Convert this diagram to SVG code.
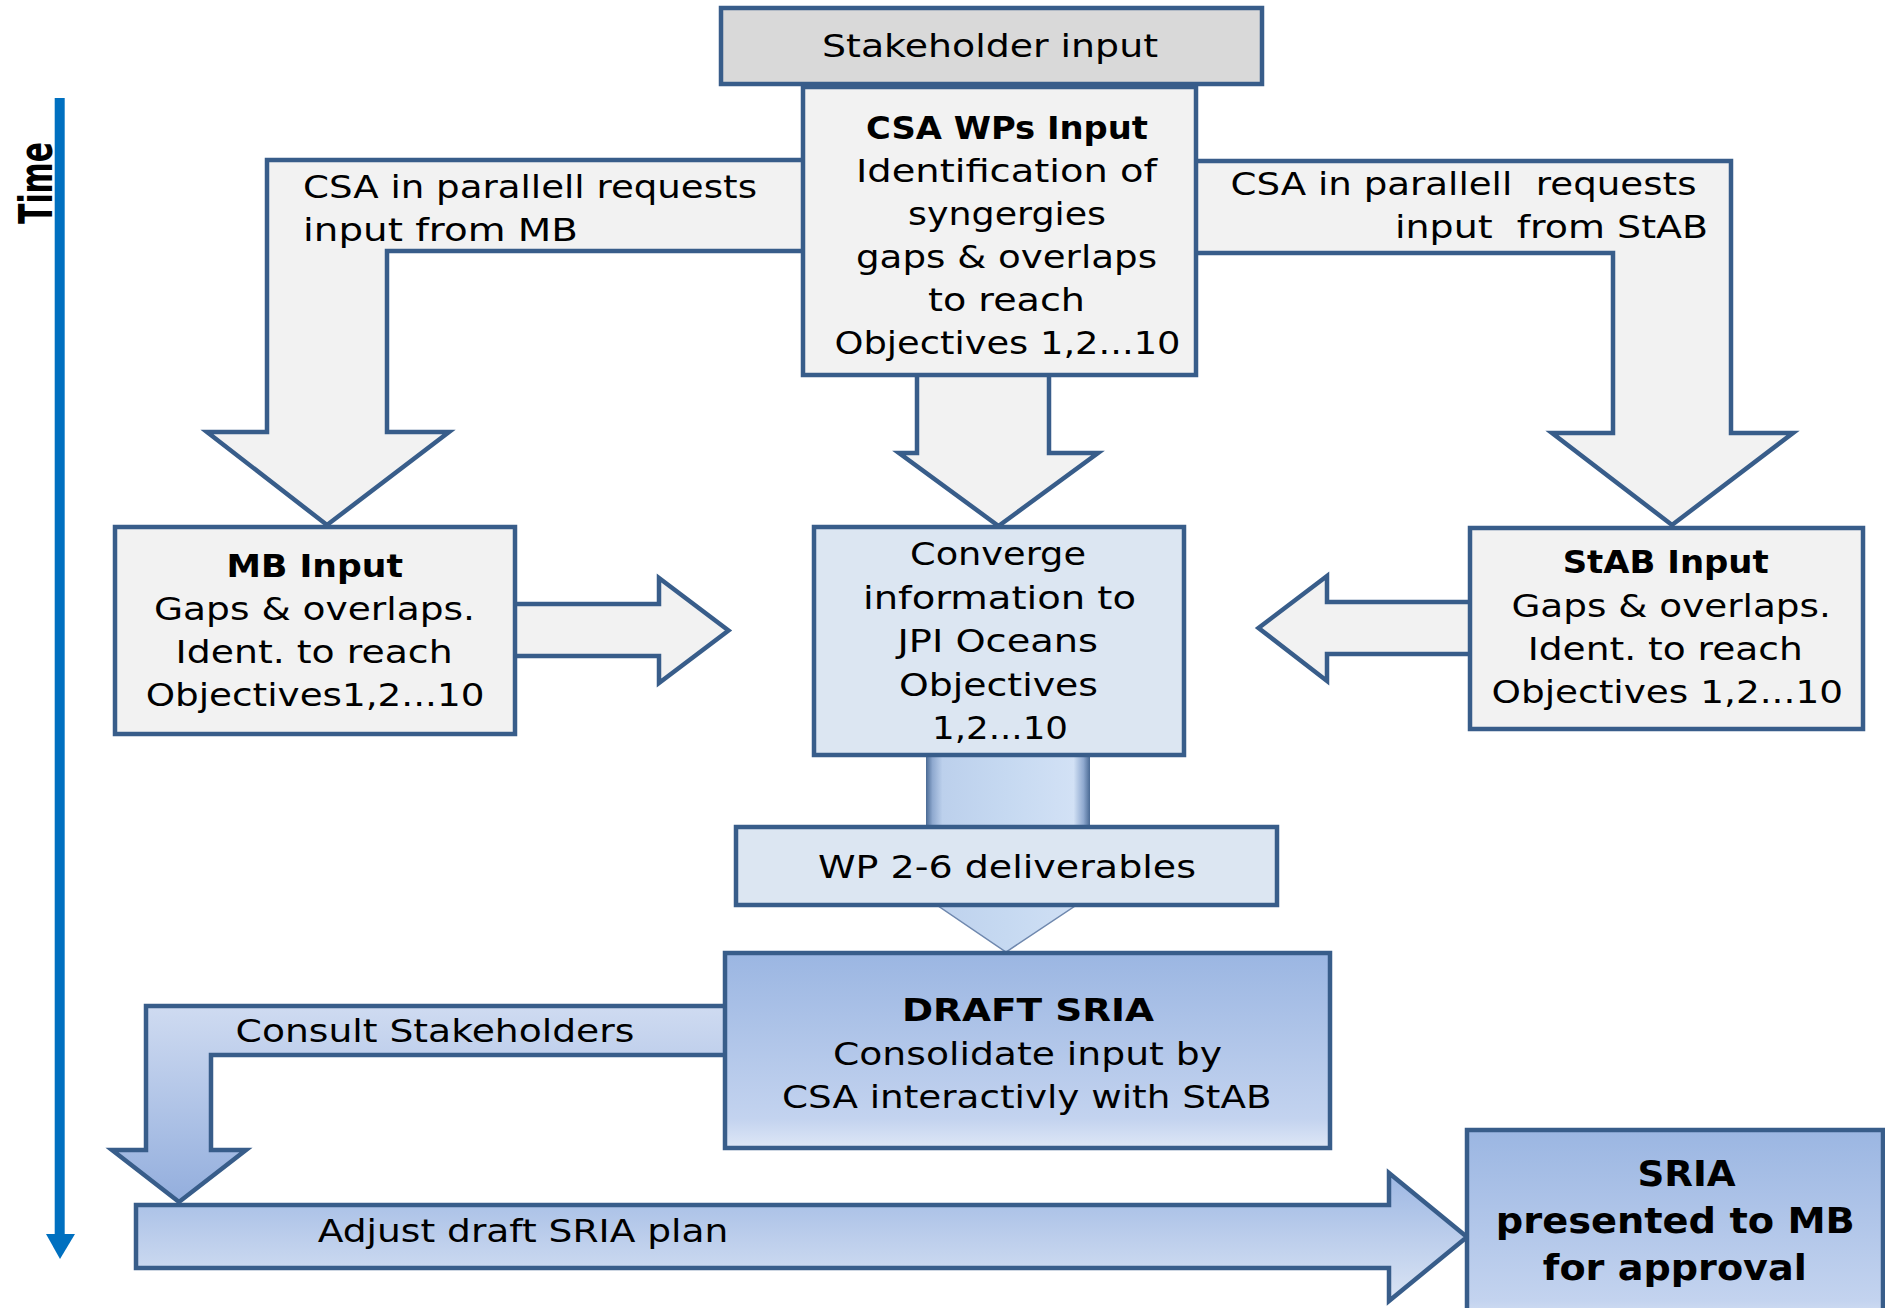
<svg xmlns="http://www.w3.org/2000/svg" width="1885" height="1308" viewBox="0 0 1885 1308">
<defs>
<style>
.ln{stroke:#385D8A;stroke-width:4.5;stroke-linejoin:miter}
.g1{fill:#F2F2F2}
.g2{fill:#D9D9D9}
.lb{fill:#DCE6F2}
.t{font-family:"DejaVu Sans","Liberation Sans",sans-serif;font-size:32px;fill:#000}
.b{font-weight:bold;font-size:32px}
.s{font-weight:bold;font-size:35px}
</style>
<linearGradient id="boxGrad" x1="0" y1="0" x2="0" y2="1">
<stop offset="0" stop-color="#9BB6E2"/>
<stop offset="0.85" stop-color="#C3D3EF"/>
<stop offset="1" stop-color="#DEE7F6"/>
</linearGradient>
<linearGradient id="adjGrad" gradientUnits="userSpaceOnUse" x1="0" y1="1173" x2="0" y2="1301">
<stop offset="0" stop-color="#9DB7E3"/>
<stop offset="1" stop-color="#DAE4F4"/>
</linearGradient>
<linearGradient id="conGrad" gradientUnits="userSpaceOnUse" x1="0" y1="1006" x2="0" y2="1202">
<stop offset="0" stop-color="#CFDBF1"/>
<stop offset="1" stop-color="#93AEDD"/>
</linearGradient>
<linearGradient id="shaftGrad" x1="0" y1="0" x2="1" y2="0">
<stop offset="0" stop-color="#4A6A94"/>
<stop offset="0.04" stop-color="#8FA9CF"/>
<stop offset="0.1" stop-color="#BCD0EC"/>
<stop offset="0.5" stop-color="#C6D9F1"/>
<stop offset="0.9" stop-color="#D2E1F5"/>
<stop offset="0.96" stop-color="#8FA9CF"/>
<stop offset="1" stop-color="#4A6A94"/>
</linearGradient>
</defs>
<rect width="1885" height="1308" fill="#FFFFFF"/>

<g id="time-axis">
<line x1="59.7" y1="98" x2="59.7" y2="1238" stroke="#0070C0" stroke-width="10"/>
<polygon points="46,1234 75,1234 60,1259" fill="#0070C0"/>
<text class="t" style="font-weight:bold;font-size:46px" transform="translate(52,224) rotate(-90)" x="0" y="0" textLength="82" lengthAdjust="spacingAndGlyphs">Time</text>
</g>

<g id="connectors">
<polygon class="ln g1" points="830,160 267,160 267,432 207,432 327,525 449,432 387,432 387,251 830,251"/>
<text class="t" x="303" y="198" textLength="454" lengthAdjust="spacingAndGlyphs">CSA in parallell requests</text>
<text class="t" x="303" y="241" textLength="275" lengthAdjust="spacingAndGlyphs">input from MB</text>
<polygon class="ln g1" points="1170,161 1731,161 1731,433 1793,433 1672,525 1552,433 1613,433 1613,253 1170,253"/>
<text class="t" xml:space="preserve" x="1230.5" y="195" textLength="466" lengthAdjust="spacingAndGlyphs">CSA in parallell  requests</text>
<text class="t" xml:space="preserve" x="1395" y="238" textLength="313" lengthAdjust="spacingAndGlyphs">input  from StAB</text>
<polygon class="ln g1" points="917,360 917,453 899,453 998.5,526 1098,453 1049,453 1049,360"/>
<polygon class="ln g1" points="500,604 659,604 659,578 728.5,630.5 659,683 659,656 500,656"/>
<polygon class="ln g1" points="1490,602 1327,602 1327,576 1258.5,628 1327,681 1327,654 1490,654"/>
<rect x="926" y="740" width="164" height="145" fill="url(#shaftGrad)"/>
<polygon points="900,880 1114,880 1006,952" fill="url(#shaftGrad)" stroke="#6F88AE" stroke-width="1.5"/>
<polygon class="ln" fill="url(#conGrad)" points="760,1006 146,1006 146,1150 112,1150 179,1202 246,1150 211,1150 211,1055 760,1055"/>
<text class="t" x="235.6" y="1041.7" textLength="398.7" lengthAdjust="spacingAndGlyphs">Consult Stakeholders</text>
<polygon class="ln" fill="url(#adjGrad)" points="136,1205 1389,1205 1389,1173 1467,1237 1389,1301 1389,1268 136,1268"/>
<text class="t" x="317.7" y="1241.7" textLength="410.7" lengthAdjust="spacingAndGlyphs">Adjust draft SRIA plan</text>
</g>

<g id="stakeholder-input">
<rect class="ln g2" x="721" y="8" width="541" height="76"/>
<text class="t" x="822" y="57" textLength="336" lengthAdjust="spacingAndGlyphs">Stakeholder input</text>
</g>

<g id="csa-wps-input">
<rect class="ln g1" x="803" y="87" width="393" height="288"/>
<text class="t b" x="866" y="139" textLength="282" lengthAdjust="spacingAndGlyphs">CSA WPs Input</text>
<text class="t" x="856" y="182" textLength="301" lengthAdjust="spacingAndGlyphs">Identification of</text>
<text class="t" x="908" y="225" textLength="198" lengthAdjust="spacingAndGlyphs">syngergies</text>
<text class="t" x="856" y="268" textLength="301" lengthAdjust="spacingAndGlyphs">gaps &amp; overlaps</text>
<text class="t" x="928" y="311" textLength="157" lengthAdjust="spacingAndGlyphs">to reach</text>
<text class="t" x="834.5" y="354" textLength="346" lengthAdjust="spacingAndGlyphs">Objectives 1,2...10</text>
</g>

<g id="mb-input">
<rect class="ln g1" x="115" y="527" width="400" height="207"/>
<text class="t b" x="226.6" y="577" textLength="176.4" lengthAdjust="spacingAndGlyphs">MB Input</text>
<text class="t" x="154" y="620" textLength="321" lengthAdjust="spacingAndGlyphs">Gaps &amp; overlaps.</text>
<text class="t" x="175.6" y="663" textLength="277" lengthAdjust="spacingAndGlyphs">Ident. to reach</text>
<text class="t" x="145.7" y="706" textLength="338.7" lengthAdjust="spacingAndGlyphs">Objectives1,2...10</text>
</g>

<g id="converge">
<rect class="ln lb" x="814" y="527" width="370" height="228"/>
<text class="t" x="910" y="565" textLength="176" lengthAdjust="spacingAndGlyphs">Converge</text>
<text class="t" x="863" y="608.5" textLength="273" lengthAdjust="spacingAndGlyphs">information to</text>
<text class="t" x="897.5" y="652" textLength="200.5" lengthAdjust="spacingAndGlyphs">JPI Oceans</text>
<text class="t" x="899" y="695.5" textLength="199" lengthAdjust="spacingAndGlyphs">Objectives</text>
<text class="t" x="932" y="739" textLength="136" lengthAdjust="spacingAndGlyphs">1,2...10</text>
</g>

<g id="stab-input">
<rect class="ln g1" x="1470" y="528" width="393" height="201"/>
<text class="t b" x="1562.7" y="573" textLength="206" lengthAdjust="spacingAndGlyphs">StAB Input</text>
<text class="t" x="1511.4" y="616.5" textLength="319.5" lengthAdjust="spacingAndGlyphs">Gaps &amp; overlaps.</text>
<text class="t" x="1527.7" y="660" textLength="275" lengthAdjust="spacingAndGlyphs">Ident. to reach</text>
<text class="t" x="1491.5" y="703" textLength="351.5" lengthAdjust="spacingAndGlyphs">Objectives 1,2...10</text>
</g>

<g id="wp-deliverables">
<rect class="ln lb" x="736" y="827" width="541" height="78"/>
<text class="t" x="818" y="878" textLength="378" lengthAdjust="spacingAndGlyphs">WP 2-6 deliverables</text>
</g>

<g id="draft-sria">
<rect class="ln" fill="url(#boxGrad)" x="725" y="953" width="605" height="195"/>
<text class="t b" x="902" y="1020.5" textLength="252" lengthAdjust="spacingAndGlyphs">DRAFT SRIA</text>
<text class="t" x="833" y="1065" textLength="389" lengthAdjust="spacingAndGlyphs">Consolidate input by</text>
<text class="t" x="782" y="1108" textLength="489.5" lengthAdjust="spacingAndGlyphs">CSA interactivly with StAB</text>
</g>

<g id="sria">
<rect class="ln" fill="url(#boxGrad)" x="1467" y="1130" width="416" height="200"/>
<text class="t s" x="1637.4" y="1186" textLength="98.3" lengthAdjust="spacingAndGlyphs">SRIA</text>
<text class="t s" x="1495.8" y="1233" textLength="359" lengthAdjust="spacingAndGlyphs">presented to MB</text>
<text class="t s" x="1542.8" y="1280" textLength="264" lengthAdjust="spacingAndGlyphs">for approval</text>
</g>
</svg>
